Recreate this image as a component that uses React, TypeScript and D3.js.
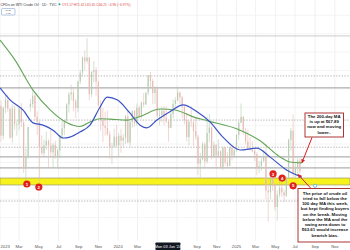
import React from 'react';
import * as d3 from 'd3';

const W = 350;
const H = 250;

// Weekly OHLC (WTI crude), week starting Monday 2023-01-02
const FIRST_WEEK = '2023-01-02';
const opens = [
  80.3, 73.8, 79.9, 81.6, 79.7, 73.4, 79.7, 76.3, 76.3, 79.7, 76.7, 66.7, 69.3, 80.1, 80.7, 82.5, 77.9, 76.8, 71.3, 70.0,
  71.7, 72.7, 71.7, 70.2, 71.8, 69.2, 70.6, 73.9, 75.4, 77.1, 80.6, 82.8, 83.2, 81.3, 79.8, 85.6, 87.5, 90.8, 90.0, 90.8,
  82.8, 87.7, 88.1, 85.5, 80.5, 77.2, 75.9, 75.5, 74.1, 71.2, 71.4, 73.6,
  71.7, 73.8, 72.7, 73.4, 78.0, 72.3, 76.8, 79.2, 76.5, 79.9, 78.0, 81.0, 80.6, 83.2, 86.9, 85.7, 83.1, 83.9, 78.1, 78.3,
  79.2, 77.7, 76.9, 75.5, 78.5, 80.7, 81.5, 83.2, 82.2, 80.1, 77.2, 73.5, 76.8, 76.7, 74.8, 73.6, 67.7, 68.7, 71.9, 68.2,
  74.4, 75.6, 69.2, 71.8, 69.5, 70.4, 67.0, 71.2, 68.0, 67.2, 71.3, 69.5, 70.6,
  74.0, 76.6, 77.9, 74.7, 72.5, 71.0, 70.7, 70.4, 69.8, 67.0, 67.2, 68.3, 69.4, 61.9, 61.5, 64.7, 63.0, 58.3, 61.0, 62.5,
  61.5, 60.8, 64.6, 72.9, 74.9, 65.5, 67.0, 68.4,
];
const highs = [
  81.5, 80.0, 82.6, 82.7, 79.8, 80.6, 80.4, 77.1, 80.1, 80.9, 77.0, 71.0, 75.7, 81.8, 83.5, 83.0, 79.1, 76.9, 73.9, 73.0,
  74.7, 73.0, 75.1, 72.2, 72.7, 71.0, 74.0, 77.0, 77.3, 80.9, 83.3, 84.9, 84.0, 81.8, 85.8, 88.1, 91.0, 92.4, 95.0, 90.9,
  87.8, 90.0, 88.7, 85.8, 81.5, 79.8, 79.0, 79.3, 74.9, 72.2, 75.3, 76.2,
  74.4, 75.3, 74.2, 78.3, 79.3, 77.0, 79.3, 79.4, 80.8, 80.3, 81.3, 83.1, 83.3, 87.0, 87.7, 86.2, 84.5, 84.5, 79.6, 80.1,
  80.2, 80.1, 77.0, 79.4, 81.7, 82.2, 84.5, 83.4, 82.4, 80.4, 78.8, 77.2, 80.2, 77.1, 77.7, 74.0, 70.1, 72.4, 72.4, 78.0,
  78.5, 75.8, 72.6, 72.0, 73.0, 70.6, 71.5, 71.3, 70.2, 71.4, 71.5, 71.0, 74.1,
  77.0, 80.8, 78.1, 75.5, 75.2, 73.5, 72.6, 71.0, 70.2, 68.3, 69.0, 70.2, 72.0, 62.9, 64.9, 64.9, 63.4, 61.9, 63.9, 63.8,
  62.1, 65.0, 73.2, 75.5, 78.4, 68.0, 68.9, 68.9,
];
const lows = [
  72.5, 73.0, 78.7, 79.0, 73.1, 72.3, 75.1, 73.8, 75.0, 75.7, 65.7, 64.1, 68.8, 79.0, 79.9, 77.2, 74.0, 63.6, 69.6, 69.4,
  70.7, 67.0, 69.4, 66.8, 68.8, 67.0, 69.0, 73.0, 73.9, 76.6, 78.8, 81.5, 79.1, 77.6, 78.9, 85.0, 86.6, 88.0, 89.5, 81.5,
  82.2, 85.4, 82.5, 80.1, 74.9, 72.4, 73.8, 73.8, 68.8, 67.7, 71.3, 71.3,
  69.3, 70.1, 71.2, 72.0, 72.2, 71.4, 75.6, 75.8, 76.0, 77.5, 77.5, 80.0, 80.5, 82.6, 84.3, 80.7, 80.7, 77.6, 76.1, 76.7,
  76.1, 76.5, 72.5, 75.4, 77.6, 79.9, 81.3, 80.7, 77.8, 76.3, 72.6, 71.7, 75.7, 71.5, 72.9, 65.3, 64.7, 68.4, 67.0, 67.7,
  72.4, 68.6, 69.0, 67.1, 69.3, 66.9, 66.3, 67.4, 66.8, 67.2, 68.4, 69.0, 70.4,
  72.9, 76.5, 74.0, 71.9, 70.7, 70.6, 70.2, 68.3, 65.2, 65.6, 66.2, 68.0, 60.0, 55.1, 60.0, 61.8, 57.5, 55.3, 60.4, 60.5,
  59.4, 60.5, 64.3, 70.5, 64.4, 64.7, 65.5, 65.6,
];
const closes = [
  73.8, 79.9, 81.6, 79.7, 73.4, 79.7, 76.3, 76.3, 79.7, 76.7, 66.7, 69.3, 75.7, 80.7, 82.5, 77.9, 76.8, 71.3, 70.0, 71.7,
  72.7, 71.7, 70.2, 71.8, 69.2, 70.6, 73.9, 75.4, 77.1, 80.6, 82.8, 83.2, 81.3, 79.8, 85.6, 87.5, 90.8, 90.0, 90.8, 82.8,
  87.7, 88.1, 85.5, 80.5, 77.2, 75.9, 75.5, 74.1, 71.2, 71.4, 73.6, 71.7,
  73.8, 72.7, 73.4, 78.0, 72.3, 76.8, 79.2, 76.5, 79.9, 78.0, 81.0, 80.6, 83.2, 86.9, 85.7, 83.1, 83.9, 78.1, 78.3, 79.2,
  77.7, 76.9, 75.5, 78.5, 80.7, 81.5, 83.2, 82.2, 80.1, 77.2, 73.5, 76.8, 76.7, 74.8, 73.6, 67.7, 68.7, 71.9, 68.2, 74.4,
  75.6, 69.2, 71.8, 69.5, 70.4, 67.0, 71.2, 68.0, 67.2, 71.3, 69.5, 70.6, 74.0,
  76.6, 77.9, 74.7, 72.5, 71.0, 70.7, 70.4, 69.8, 67.0, 67.2, 68.3, 69.4, 61.9, 61.5, 64.7, 63.0, 58.3, 61.0, 62.5, 61.5,
  60.8, 64.6, 72.9, 74.9, 65.5, 67.0, 68.4, 66.0,
];

// 100-day MA (blue)
const ma100Dates = [
  '2023-01-01', '2023-02-01', '2023-03-13', '2023-04-13', '2023-05-14', '2023-06-14', '2023-07-15', '2023-08-05',
  '2023-09-05', '2023-10-06', '2023-11-06', '2023-11-28', '2023-12-29', '2024-02-07', '2024-03-09', '2024-03-30',
  '2024-04-30', '2024-06-09', '2024-07-20', '2024-09-01', '2024-10-11', '2024-11-20', '2025-01-12', '2025-03-05',
  '2025-04-14', '2025-06-06', '2025-07-22',
];
const ma100Values = [
  84.2, 81.6, 79.4, 76.6, 76.1, 75.0, 73.3, 73.5, 74.6, 76.1, 80.0, 82.2, 81.6, 78.7, 76.1, 75.5, 77.2, 79.0, 80.5,
  79.0, 76.8, 73.5, 70.7, 71.1, 69.2, 66.3, 64.8,
];
// 200-day MA (green)
const ma200Dates = [
  '2023-01-01', '2023-02-16', '2023-04-13', '2023-06-05', '2023-07-27', '2023-09-05', '2023-10-06', '2023-11-06',
  '2023-12-07', '2024-01-29', '2024-03-09', '2024-05-10', '2024-06-25', '2024-08-20', '2024-10-05', '2025-01-12',
  '2025-03-15', '2025-05-15', '2025-06-15', '2025-07-22',
];
const ma200Values = [
  94.6, 90.3, 83.7, 79.4, 76.6, 75.8, 76.8, 77.5, 77.4, 77.2, 78.0, 79.6, 79.4, 77.9, 77.0, 75.0, 72.7, 69.2, 68.1, 67.9,
];

const topLevel = 95.5;
const solidLevels = [84.2, 69.2, 66.8];
const dottedLevels = [86.8, 77.2, 71.3, 59.6];
const supportZone = [63.1, 64.6];

const markerDates = ['2023-03-25', '2023-05-01', '2025-04-24', '2025-05-22', '2025-06-25'];
const markerPrices = [63.3, 62.65, 65.5, 64.6, 62.9];
const markerLabels = ['1', '2', '3', '4', '5'];

const note200 = ['The 200-day MA', 'is up at $67.89', 'now and moving', 'lower..'];
const note200Tip = { date: '2025-07-22', price: 67.89 };
const notePrice = [
  'The price of crude oil',
  'tried to fall below the',
  '100 day MA this week,',
  'but kept finding buyers',
  'on the break.  Moving',
  'below the MA and the',
  'swing area down to',
  '$63.61 would increase',
  'bearish bias.',
];
const notePriceTip = { date: '2025-07-10', price: 65.4 };
const cyanMark = { date: '2025-09-01', price: 62.9 };

const crosshairDate = '2024-06-03';
const crosshairLabel = "Mon 03 Jun '24";
const monthNames = ['Jan', 'Feb', 'Mar', 'Apr', 'May', 'Jun', 'Jul', 'Aug', 'Sep', 'Oct', 'Nov', 'Dec'];

const headerTitle = 'CFDs on WTI Crude Oil · 1D · TVC';
const headerOHLC = 'O71.17 H71.42 L65.65 C66.21 −4.96 (−6.97%)';

const FONT = '"Liberation Sans", Arial, sans-serif';

export default function App() {
  const d = (s: string) => new Date(s + 'T00:00:00Z');
  const x = d3.scaleUtc().domain([d('2023-01-01'), d('2026-01-01')]).range([0, 354.6]);
  const y = d3.scaleLinear().domain([87, 55]).range([75, 222.2]);

  const start = d(FIRST_WEEK);
  const candles = closes.map((c, i) => {
    const wk = d3.utcDay.offset(start, 7 * i + 2);
    return { date: wk, o: opens[i], h: highs[i], l: lows[i], c };
  });

  const line = d3
    .line<[Date, number]>()
    .x((p) => x(p[0]))
    .y((p) => y(p[1]))
    .curve(d3.curveMonotoneX);
  const ma100 = line(ma100Dates.map((s, i) => [d(s), ma100Values[i]] as [Date, number]))!;
  const ma200 = line(ma200Dates.map((s, i) => [d(s), ma200Values[i]] as [Date, number]))!;

  const ticks = d3.utcMonth.every(2)!.range(d('2023-01-01'), d('2025-12-01'));
  const chX = x(d(crosshairDate));
  const boxHalf = 12.5;

  const gridPrices = d3.range(100, 52, -4);

  const tip200 = [x(d(note200Tip.date)), y(note200Tip.price)];
  const tipPrice = [x(d(notePriceTip.date)), y(notePriceTip.price)];

  return (
    <svg width={W} height={H} style={{ position: 'absolute', left: 0, top: 0, background: '#fff' }} fontFamily={FONT}>
      <defs>
        <marker id="ah" viewBox="0 0 10 10" refX="9" refY="5" markerWidth="4" markerHeight="4" orient="auto">
          <path d="M0,0 L10,5 L0,10 z" fill="#d32020" />
        </marker>
      </defs>
      <rect x={0} y={0} width={W} height={H} fill="#fff" />
      {/* grid */}
      {ticks.map((t, i) => (
        <line key={'vg' + i} x1={x(t)} x2={x(t)} y1={0} y2={241} stroke="#eeeeee" strokeWidth={0.8} />
      ))}
      {gridPrices.map((p, i) => (
        <line key={'hg' + i} x1={0} x2={W} y1={y(p)} y2={y(p)} stroke="#f1f1f1" strokeWidth={0.8} />
      ))}
      {/* level lines */}
      <line x1={0} x2={W} y1={y(topLevel)} y2={y(topLevel)} stroke="#c4c4c4" strokeWidth={0.9} />
      {dottedLevels.map((p, i) => (
        <line key={'dl' + i} x1={0} x2={W} y1={y(p)} y2={y(p)} stroke="#9a9a9a" strokeWidth={0.7} strokeDasharray="1.4 1.4" />
      ))}
      {solidLevels.map((p, i) => (
        <line key={'sl' + i} x1={0} x2={W} y1={y(p)} y2={y(p)} stroke="#9c9c9c" strokeWidth={1} />
      ))}
      <rect
        x={0}
        width={W}
        y={y(supportZone[1])}
        height={y(supportZone[0]) - y(supportZone[1])}
        fill="#f7f21c"
        stroke="#a5a36a"
        strokeWidth={0.8}
      />
      {/* candles */}
      {candles.map((k, i) => {
        const up = k.c >= k.o;
        const col = up ? '#b9cdb4' : '#e6bcb5';
        const cx = x(k.date);
        const top = y(Math.max(k.o, k.c));
        const bot = y(Math.min(k.o, k.c));
        return (
          <g key={'c' + i}>
            <line x1={cx} x2={cx} y1={y(k.h)} y2={y(k.l)} stroke={col} strokeWidth={0.6} />
            <rect x={cx - 0.6} width={1.2} y={top} height={Math.max(0.5, bot - top)} fill={col} />
          </g>
        );
      })}
      {/* moving averages */}
      <path d={ma200} fill="none" stroke="#62a556" strokeWidth={1.1} />
      <path d={ma100} fill="none" stroke="#3a53c6" strokeWidth={1.2} />
      {/* markers */}
      {markerDates.map((s, i) => (
        <g key={'m' + i}>
          <circle cx={x(d(s))} cy={y(markerPrices[i])} r={3.6} fill="#e0201c" />
          <text
            x={x(d(s))}
            y={y(markerPrices[i]) + 1.6}
            fontSize={4.4}
            fill="#fff"
            textAnchor="middle"
            fontWeight="bold"
          >
            {markerLabels[i]}
          </text>
        </g>
      ))}
      <circle cx={x(d(cyanMark.date))} cy={y(cyanMark.price)} r={1.6} fill="#fff" stroke="#4bb8e0" strokeWidth={0.8} />
      {/* callout 1 */}
      <line x1={312} y1={137.5} x2={tip200[0]} y2={tip200[1]} stroke="#d32020" strokeWidth={1} markerEnd="url(#ah)" />
      <rect x={305} y={113} width={38.5} height={24} fill="#fff" stroke="#a3201f" strokeWidth={0.9} />
      {note200.map((t, i) => (
        <text key={'n1' + i} x={324.2} y={118.2 + i * 5.1} fontSize={4.3} fontWeight="bold" textAnchor="middle" fill="#111">
          {t}
        </text>
      ))}
      {/* callout 2 */}
      <line x1={311} y1={188.5} x2={tipPrice[0]} y2={tipPrice[1]} stroke="#d32020" strokeWidth={1} markerEnd="url(#ah)" />
      <rect x={298} y={188.5} width={56} height={53.5} fill="#fff" stroke="#a3201f" strokeWidth={0.9} />
      {notePrice.map((t, i) => (
        <text key={'n2' + i} x={325} y={194.6 + i * 5.25} fontSize={4.4} fontWeight="bold" textAnchor="middle" fill="#111">
          {t}
        </text>
      ))}
      {/* time axis */}
      {ticks.map((t, i) => {
        const tx = x(t);
        if (Math.abs(tx - chX) < boxHalf + 4) return null;
        const m = t.getUTCMonth();
        const lbl = m === 0 ? String(t.getUTCFullYear()) : monthNames[m];
        const edge = tx < 5;
        return (
          <text
            key={'tl' + i}
            x={edge ? 0.5 : tx}
            y={247.5}
            fontSize={4.2}
            fill="#555"
            textAnchor={edge ? 'start' : 'middle'}
          >
            {lbl}
          </text>
        );
      })}
      <rect x={chX - boxHalf} y={242.5} width={boxHalf * 2} height={7.5} fill="#131722" rx={0.8} />
      <text x={chX} y={247.6} fontSize={3.9} fill="#fff" textAnchor="middle">
        {crosshairLabel}
      </text>
      {/* header */}
      <text x={0.5} y={5.5} fontSize={3.6} fill="#333">
        {headerTitle}
      </text>
      <circle cx={59.5} cy={4.3} r={1} fill="#26a69a" />
      <text x={62} y={5.5} fontSize={3.3} fill="#e04848">
        {headerOHLC}
      </text>
      <rect x={1.5} y={8.5} width={13.5} height={6.5} rx={1} fill="#fff" stroke="#8aa3d6" strokeWidth={0.6} />
      <text x={8.2} y={11.4} fontSize={2.4} fill="#555" textAnchor="middle">
        66.21
      </text>
      <text x={8.2} y={14} fontSize={2.2} fill="#555" textAnchor="middle">
        0.02
      </text>
    </svg>
  );
}
